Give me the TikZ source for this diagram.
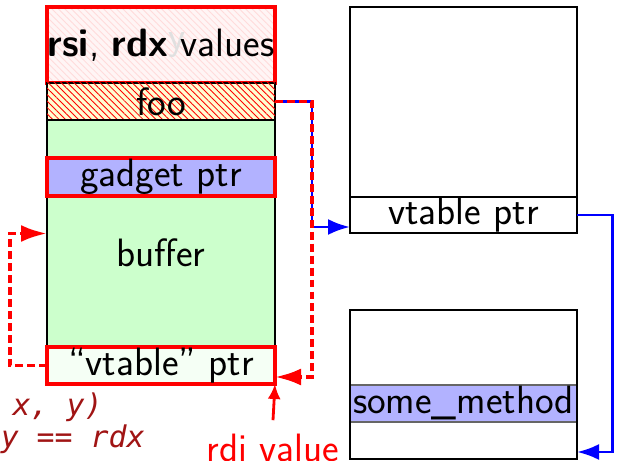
\documentclass[tikz,border=0pt]{standalone}
\usepackage{fontspec}
\newfontfamily\codefont{DejaVu Sans Mono}
\usetikzlibrary{positioning, patterns.meta, arrows.meta}

\definecolor{codered}{RGB}{160,20,20}

\begin{document}
\begin{tikzpicture}[
font=\sffamily\fontsize{22.5}{25}\selectfont,
slot/.style={rectangle,
  minimum width=4.56cm,
  inner sep=0pt,
  outer sep=0pt,
  align=center,
},
blackslot/.style={slot, draw=black, line width=1.1pt},
redslot/.style={slot, draw=red, line width=1.8pt},
hatched/.style 2 args={
  fill=#1,
  postaction={pattern={Lines[angle=-45, distance=2.6pt, line width=0.5pt]}, pattern color=#2}
},
redlink/.style={red, line width=2.2pt, dash pattern=on 4.5pt off 2.3pt,
  -{Latex[length=0.52cm, width=0.34cm]}},
bluelink/.style={blue, line width=1.7pt, -{Latex[length=0.44cm, width=0.32cm]}},
>={Latex[length=0.3cm, width=0.26cm]}
]
\useasboundingbox (0,0) rectangle (12.36,-9.22);

% stack on the left
\node[redslot, minimum height=1.52cm, hatched={red!4}{red!14}] (vals) at (3.22,-0.9)
    {};
\node[text=black!12] at (3.55,-0.9) {y};
\node[redslot, minimum height=1.52cm] at (3.22,-0.9)
    {\textbf{rsi}, \textbf{rdx} values};
\node[blackslot, minimum height=0.74cm, below=0cm of vals, hatched={yellow!18}{red}] (foo)
    {foo};
\node[blackslot, minimum height=4.54cm, below=0cm of foo, fill=green!20] (buf)
    {};
\node at ([yshift=-0.39cm]buf.center) {buffer};
\node[redslot, minimum height=0.76cm, below=0.76cm of buf.north, fill=blue!30] (gadget)
    {gadget ptr};
\node[redslot, minimum height=0.74cm, below=0cm of buf, fill=green!4] (vtab)
    {“vtable” ptr};

% the two tables on the right
\node[slot, minimum width=4.54cm, minimum height=0.72cm, draw=black, line width=1pt] (vptr) at (9.27,-4.3)
    {vtable ptr};
\node[slot, minimum width=4.54cm, minimum height=4.52cm, draw=black, line width=1.6pt] (vt) at (9.27,-2.4)
    {};
\node[slot, minimum width=4.54cm, minimum height=0.74cm, draw=black!60, line width=0.6pt, fill=blue!30] (meth) at (9.27,-8.07)
    {some\_method};
\node[slot, minimum width=4.54cm, minimum height=2.98cm, draw=black, line width=1.6pt] (mt) at (9.27,-7.69)
    {};

% labels
\node[text=red, inner sep=0pt, anchor=base] (rdi) at (5.46,-9.22)
    {rdi value};
\node[text=codered, font=\codefont\itshape\fontsize{17}{19}\selectfont, inner sep=0pt, anchor=base east] (args) at (2.06,-8.3)
    {x, y)};
\node[text=codered, font=\codefont\itshape\fontsize{17}{19}\selectfont, inner sep=0pt, anchor=base east] (cond) at (2.9,-8.94)
    {y == rdx};

% pointers
\draw[bluelink] (foo.east) -- ++(0.74,0) |- ([yshift=-0.24cm]vptr.west);
\draw[redlink] (foo.east) -- ++(0.74,0) |- ([yshift=-0.23cm]vtab.east);
\draw[redlink] (vtab.west) -- ++(-0.74,0) |- (buf.west);
\draw[bluelink] (vptr.east) -- ++(0.7,0) |- ([yshift=0.14cm]mt.south east);
\draw[->,red,line width=1.6pt] ([yshift=0.26cm]rdi.north) -- (vtab.south east);
\end{tikzpicture}
\end{document}
